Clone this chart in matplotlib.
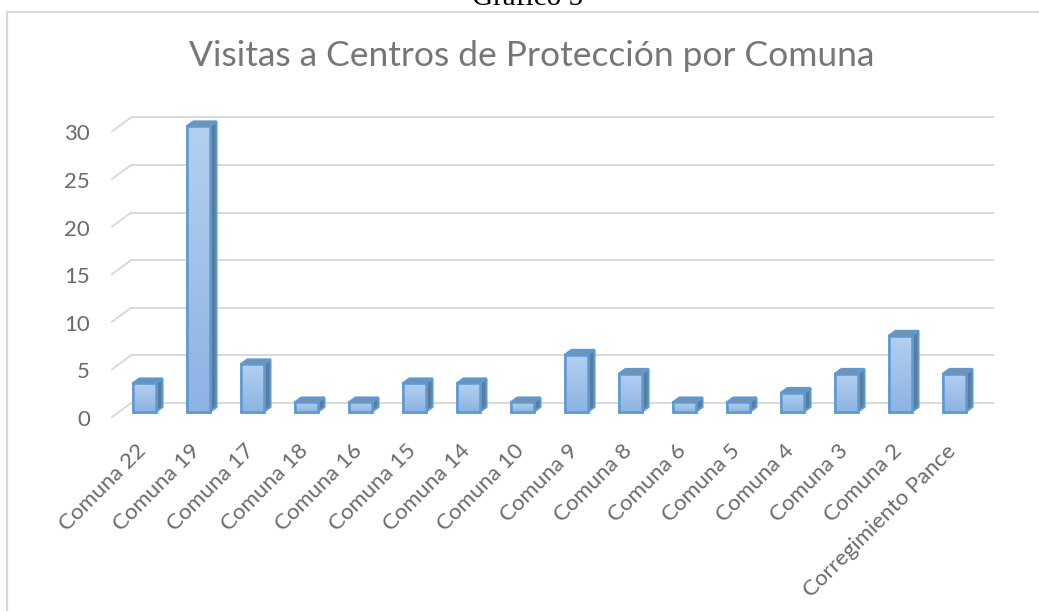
import matplotlib
matplotlib.use('Agg')
import matplotlib.pyplot as plt
import numpy as np
from matplotlib.patches import Polygon, Rectangle
from matplotlib.colors import LinearSegmentedColormap
from matplotlib.lines import Line2D

# ---- data ----
categories = ["Comuna 22", "Comuna 19", "Comuna 17", "Comuna 18", "Comuna 16",
              "Comuna 15", "Comuna 14", "Comuna 10", "Comuna 9", "Comuna 8",
              "Comuna 6", "Comuna 5", "Comuna 4", "Comuna 3", "Comuna 2",
              "Corregimiento Pance"]
values = [3, 30, 5, 1, 1, 3, 3, 1, 6, 4, 1, 1, 2, 4, 8, 4]
y_ticks = [0, 5, 10, 15, 20, 25, 30]
title = "Visitas a Centros de Protección por Comuna"
caption = "Gráfico 5"

# ---- style ----
FONT = ["Lato", "DejaVu Sans"]
TEXT_C = "#6A6A6A"
GRID_C = "#D9D9D9"
EDGE_C = "#5B9BD5"
SIDE_C = "#5E7A99"
TOP_C = "#7B8FA8"

W, H = 1039, 611
fig = plt.figure(figsize=(W / 100, H / 100), dpi=100)
ax = fig.add_axes([0, 0, 1, 1])
ax.set_axis_off()

# pixel geometry of the pseudo-3D plot
x0_px, step_px = 144, 54        # first category centre, spacing
base_px, unit_px = 412, 9.52    # zero line of bar fronts (from top), px per unit
ax.set_xlim(-x0_px / step_px, (W - x0_px) / step_px)
ax.set_ylim(-(H - base_px) / unit_px, base_px / unit_px)

def dx(p):
    return p / step_px

def dy(p):
    return p / unit_px

# gridlines (back wall + floor diagonal)
back_up = dy(9)
front_down = dy(5)
gx_back0, gx_back1 = dx(131 - x0_px), dx(994 - x0_px)
gx_front = dx(112 - x0_px)
for v in y_ticks:
    ax.plot([gx_back0, gx_back1], [v + back_up, v + back_up], color=GRID_C, lw=1.4, zorder=1,
            solid_capstyle='butt')
    ax.plot([gx_front, gx_back0], [v - front_down, v + back_up], color=GRID_C, lw=1.4, zorder=1)
    ax.text(dx(90 - x0_px), v - dy(14), str(v), ha='right', va='baseline',
            fontsize=16, color=TEXT_C, family=FONT)

# bars
bw = 23 / step_px
ddx, ddy = dx(7), dy(5)
cmap = LinearSegmentedColormap.from_list("front", ["#8DB3E2", "#B4D0F0"])
grad = np.linspace(0, 1, 256).reshape(-1, 1)
x = np.arange(len(categories))
bars = ax.bar(x, values, width=bw, color="#A3C2E9", edgecolor=EDGE_C, linewidth=1.8, zorder=3)
for xi, v, b in zip(x, values, bars):
    l, r = xi - bw / 2, xi + bw / 2
    im = ax.imshow(grad, cmap=cmap, origin='lower', aspect='auto',
                   extent=(l, r, 0, v), zorder=3.1)
    im.set_clip_path(b)
    ax.add_patch(Rectangle((l, 0), bw, v, fill=False, edgecolor=EDGE_C, lw=1.8, zorder=3.2))
    side = Polygon([(r, 0), (r + ddx, ddy), (r + ddx, v + ddy), (r, v)], closed=True,
                   facecolor=SIDE_C, edgecolor=EDGE_C, lw=1.5, zorder=2.9)
    top = Polygon([(l, v), (r, v), (r + ddx, v + ddy), (l + ddx, v + ddy)], closed=True,
                  facecolor=TOP_C, edgecolor=EDGE_C, lw=1.5, zorder=2.9)
    ax.add_patch(side)
    ax.add_patch(top)

# category labels
for xi, cat in zip(x, categories):
    ax.text(xi - dx(1), -dy(448 - base_px), cat, rotation=45, rotation_mode='anchor',
            ha='right', va='center', fontsize=16, color=TEXT_C, family=FONT)

# title and caption
fig.text(531.5 / W, 1 - 66 / H, title, ha='center', va='baseline', fontsize=25.5,
         color="#767676", family=FONT)
fig.text(528 / W, 1 - 5 / H, caption, ha='center', va='baseline', fontsize=21,
         color="black", family=["Liberation Serif", "DejaVu Serif"])

# chart border
fig.add_artist(Line2D([7 / W, 7 / W, 1.0], [0.0, 1 - 12 / H, 1 - 12 / H],
                      transform=fig.transFigure, color=GRID_C, lw=1.6))

fig.savefig("out.png", dpi=100)
